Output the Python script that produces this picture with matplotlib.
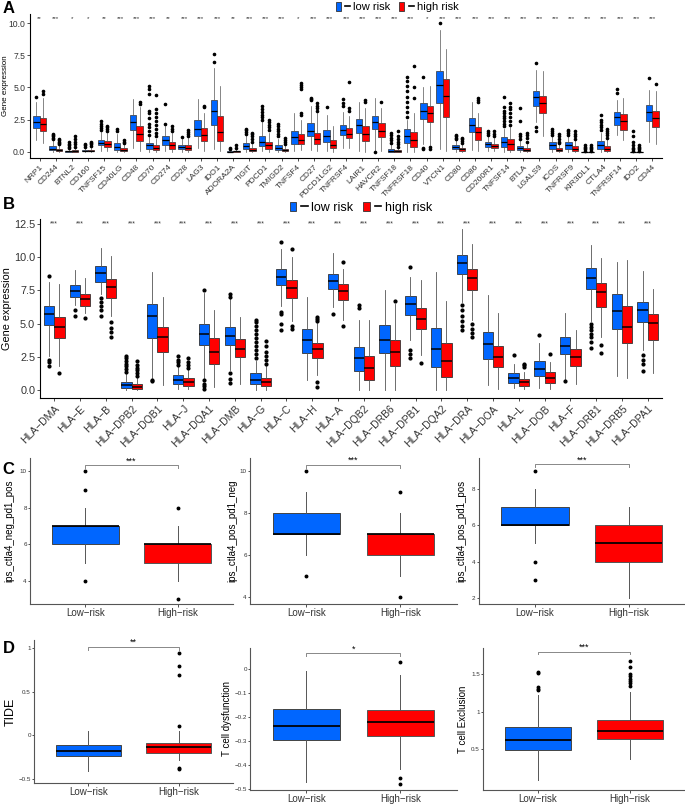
import matplotlib
matplotlib.use("Agg")
import matplotlib.pyplot as plt
from matplotlib.patches import Patch
from matplotlib.lines import Line2D
from matplotlib.legend_handler import HandlerTuple

plt.rcParams['font.family'] = ['Liberation Sans', 'DejaVu Sans']

BLUE = "#0066FF"
RED = "#FF0000"
MINUS = "\u2212"

# === Panel A: immune checkpoint genes ===
# stats per gene: (whislo, q1, median, q3, whishi)
a_genes = ["NRP1", "CD244", "BTNL2", "CD160", "TNFSF15", "CD40LG", "CD48", "CD70", "CD274", "CD28",
           "LAG3", "IDO1", "ADORA2A", "TIGIT", "PDCD1", "TMIGD2", "TNFSF4", "CD27", "PDCD1LG2", "TNFRSF4",
           "LAIR1", "HAVCR2", "TNFSF18", "TNFRSF18", "CD40", "VTCN1", "CD80", "CD86", "CD200R1", "TNFSF14",
           "BTLA", "LGALS9", "ICOS", "TNFRSF9", "KIR3DL1", "CTLA4", "TNFRSF14", "IDO2", "CD44"]
a_stars = ["**", "***", "*", "*", "**", "***", "***", "***", "**", "***",
           "***", "***", "**", "***", "***", "***", "*", "***", "***", "***",
           "***", "***", "***", "***", "*", "***", "***", "***", "***", "***",
           "***", "***", "***", "***", "***", "***", "***", "***", "***"]
a_low = [(0.95, 1.86, 2.33, 2.76, 3.9), (0, 0.13, 0.25, 0.44, 0.9), (0, 0.02, 0.05, 0.1, 0.2),
         (0, 0.05, 0.1, 0.15, 0.3), (0.1, 0.5, 0.72, 0.95, 1.55), (0, 0.18, 0.35, 0.7, 1.4),
         (0.3, 1.73, 2.32, 2.9, 4.1), (0, 0.23, 0.5, 0.7, 1.15), (0.1, 0.52, 0.9, 1.21, 2.0),
         (0, 0.23, 0.4, 0.57, 1.0), (0.3, 1.21, 1.81, 2.45, 4.1), (0.2, 2.12, 3.15, 4.06, 6.5),
         (0, 0.01, 0.03, 0.08, 0.15), (0, 0.23, 0.45, 0.7, 1.3), (0.05, 0.44, 0.8, 1.26, 2.3),
         (0, 0.13, 0.3, 0.52, 1.0), (0.1, 0.65, 1.14, 1.6, 3.0), (0.15, 1.21, 1.6, 2.25, 3.6),
         (0.1, 0.75, 1.21, 1.73, 2.9), (0.3, 1.3, 1.73, 2.1, 3.1), (0.1, 1.47, 2.09, 2.56, 3.9),
         (0.1, 1.78, 2.35, 2.81, 4.2), (0, 0.02, 0.1, 0.23, 0.5), (0, 0.72, 1.2, 1.78, 2.5),
         (0.6, 2.56, 3.18, 3.8, 5.0), (0.2, 3.8, 5.19, 6.28, 9.45), (0, 0.23, 0.35, 0.54, 0.9),
         (0.15, 1.56, 2.12, 2.6, 3.9), (0.1, 0.39, 0.58, 0.75, 1.2), (0, 0.41, 0.75, 1.19, 1.8),
         (0, 0.18, 0.3, 0.49, 0.9), (2.3, 3.57, 4.24, 4.73, 6.36), (0, 0.2, 0.5, 0.8, 1.2),
         (0, 0.26, 0.5, 0.75, 1.2), (0, 0, 0.01, 0.03, 0.06), (0, 0.23, 0.5, 0.88, 1.5),
         (1.3, 2.09, 2.7, 3.1, 4.0), (0, 0, 0.01, 0.03, 0.06), (0.8, 2.43, 3.08, 3.64, 4.8)]
a_low_fliers = [[4.25], [1.0, 1.1, 1.2, 1.3, 1.4], [0.3, 0.4, 0.5, 0.6, 0.8], [0.4, 0.5, 0.6],
                [1.7, 1.85, 2.0, 2.2, 2.4], [1.6, 1.75], [], [1.3, 1.6, 1.9, 2.2, 2.6, 3.0, 3.2, 4.5, 4.9, 5.15],
                [2.2, 3.75], [1.15], [], [7.0, 7.6], [0.2, 0.3], [1.4, 1.55, 1.7, 1.8],
                [2.5, 2.7, 2.9, 3.1, 3.3, 3.6], [1.2, 1.4, 1.6, 1.8, 2.0, 2.2], [], [4.0, 4.1, 4.2], [3.5],
                [3.6, 3.8, 4.1], [], [0.0], [0.7, 0.9, 1.1, 1.3, 1.5],
                [2.7, 3.1, 3.5, 3.9, 4.3, 4.7, 5.1, 5.5, 5.8], [5.8, 0.3, 0.2], [10.0], [1.0, 1.1, 1.2, 1.3],
                [], [1.35, 1.5, 1.6], [2.0, 2.2, 2.4, 2.6, 2.8, 3.0, 3.2, 3.5, 4.3], [1.0, 1.2, 1.4, 2.4, 3.4],
                [6.9, 1.9, 1.6], [1.3, 1.45, 1.6, 1.8], [1.3, 1.45, 1.6, 1.7], [0.1, 0.2, 0.3, 0.4, 0.5],
                [1.7, 1.9, 2.1, 2.3, 2.5, 2.9], [4.6, 4.9], [0.1, 0.2, 0.3, 0.5, 0.8, 1.2, 1.6], [5.76]]
a_high = [(0.7, 1.6, 2.2, 2.64, 4.2), (0, 0.05, 0.12, 0.23, 0.5), (0, 0.02, 0.06, 0.15, 0.3),
          (0, 0.05, 0.1, 0.17, 0.35), (0.05, 0.36, 0.6, 0.83, 1.5), (0, 0.05, 0.12, 0.3, 0.6),
          (0.1, 0.83, 1.42, 1.99, 3.5), (0, 0.13, 0.32, 0.52, 1.0), (0, 0.26, 0.5, 0.75, 1.45),
          (0, 0.18, 0.33, 0.57, 1.05), (0.1, 0.83, 1.29, 1.86, 3.0), (0.05, 0.83, 1.55, 2.76, 5.1),
          (0, 0.01, 0.04, 0.1, 0.2), (0, 0.05, 0.15, 0.3, 0.6), (0, 0.23, 0.5, 0.75, 1.5),
          (0, 0.05, 0.15, 0.26, 0.5), (0.15, 0.62, 0.96, 1.4, 2.5), (0.05, 0.65, 1.03, 1.47, 3.0),
          (0, 0.31, 0.57, 0.96, 2.0), (0.3, 1.08, 1.4, 1.86, 2.8), (0, 0.85, 1.4, 2.0, 3.4),
          (0.1, 1.19, 1.6, 2.25, 3.4), (0, 0.01, 0.05, 0.12, 0.25), (0, 0.41, 0.9, 1.57, 3.0),
          (0.5, 2.35, 3.0, 3.57, 5.1), (0.1, 2.72, 4.37, 5.64, 8.0), (0, 0.08, 0.2, 0.33, 0.6),
          (0.05, 0.93, 1.55, 1.96, 3.0), (0.05, 0.3, 0.48, 0.65, 1.1), (0, 0.15, 0.6, 1.0, 1.9),
          (0, 0.05, 0.15, 0.3, 0.6), (1.2, 3.02, 3.8, 4.34, 6.3), (0, 0.05, 0.12, 0.3, 0.6),
          (0, 0.1, 0.25, 0.44, 0.9), (0, 0, 0.01, 0.03, 0.06), (0, 0.05, 0.25, 0.44, 1.0),
          (0.9, 1.7, 2.4, 2.94, 4.2), (0, 0, 0.01, 0.03, 0.06), (0.6, 1.96, 2.6, 3.18, 4.7)]
a_high_fliers = [[4.5, 4.75], [0.6, 0.7, 0.8, 0.9, 1.0], [0.4, 0.6, 0.8, 1.0, 1.2], [0.45, 0.6, 0.7, 0.8],
                 [1.6, 1.75, 1.9, 2.0], [0.7, 0.8, 0.9], [3.7, 3.85], [1.2, 1.5, 1.8, 2.1, 2.4, 2.7, 3.0, 3.3, 4.4],
                 [1.6, 1.8, 2.0], [1.2, 1.4, 1.55, 1.7], [3.45, 3.6], [], [0.3, 0.5], [0.8, 1.0, 1.2, 1.4, 1.5],
                 [1.7, 1.9, 2.1, 2.3, 2.5], [0.6, 0.8, 0.95, 1.1], [2.9, 3.0, 4.9, 5.05, 5.2, 5.35],
                 [3.2, 3.4, 3.6, 3.8], [], [3.2, 3.4, 5.4], [3.9, 4.0], [3.9], [0.4, 0.6, 0.8, 1.0, 1.2, 1.6],
                 [4.2, 5.0, 6.7], [0.35, 0.25], [], [0.7, 0.85, 1.0, 1.1], [3.9, 4.05, 4.2], [1.2, 1.4, 1.6],
                 [2.1, 2.4, 2.7, 3.0, 3.3, 3.5, 3.8], [0.8, 1.1, 1.3, 1.5], [], [0.7, 0.8, 1.0, 1.2, 1.4],
                 [1.0, 1.2, 1.4, 1.6], [0.1, 0.2, 0.3, 0.4, 0.5], [1.1, 1.3, 1.5, 1.6, 1.8], [],
                 [0.1, 0.2, 0.3, 0.4, 0.5], [5.3]]

# === Panel B: HLA genes ===
b_genes = ["DMA", "E", "B", "DPB2", "DQB1", "J", "DQA1", "DMB", "G", "C", "H", "A", "DQB2", "DRB6",
           "DPB1", "DQA2", "DRA", "DOA", "L", "DOB", "F", "DRB1", "DRB5", "DPA1"]
b_stars = ["***"] * 24
b_low = [(2.6, 4.9, 5.7, 6.35, 8.1), (6.4, 7.0, 7.47, 7.9, 9.0), (7.2, 8.1, 8.78, 9.32, 10.65),
         (0, 0.2, 0.4, 0.65, 1.2), (0.9, 3.9, 5.6, 6.5, 8.9), (0.1, 0.5, 0.8, 1.15, 1.8),
         (0.9, 3.4, 4.25, 5.0, 7.3), (1.5, 3.4, 4.1, 4.75, 6.9), (0.05, 0.5, 0.8, 1.3, 2.2),
         (6.3, 7.87, 8.5, 9.1, 10.6), (0.77, 2.82, 3.77, 4.58, 6.98), (6.27, 7.58, 8.22, 8.72, 10.3),
         (0.02, 1.45, 2.4, 3.27, 5.27), (0, 2.77, 3.77, 4.9, 7.52), (3.77, 5.65, 6.47, 7.07, 8.52),
         (0, 1.77, 3.1, 4.65, 8.85), (6.65, 8.72, 9.57, 10.15, 12.1), (0.4, 2.32, 3.47, 4.4, 7.15),
         (0.15, 0.52, 0.9, 1.27, 2.0), (0.15, 1.1, 1.57, 2.22, 3.52), (0.82, 2.72, 3.35, 3.97, 5.77),
         (5.2, 7.57, 8.45, 9.15, 10.9), (1.07, 4.58, 5.97, 7.22, 9.65), (3.0, 5.1, 6.02, 6.65, 8.95)]
b_low_fliers = [[8.55, 2.3, 2.1, 1.85], [6.05, 5.6], [6.9, 6.6, 6.3, 6.0, 5.6],
                [1.4, 1.6, 1.8, 2.0, 2.2, 2.4, 2.6], [0.8, 0.7], [1.9, 2.1, 2.3, 2.6],
                [7.5, 0.8, 0.5, 0.3, 0.1], [7.0, 7.2, 1.3, 0.85, 0.55],
                [2.4, 2.7, 3.0, 3.3, 3.6, 3.9, 4.2, 4.5, 4.8, 5.1, 5.3], [11.1, 5.9, 5.7, 5.0, 4.5], [],
                [5.72], [6.2, 6.4], [], [9.22, 3.0, 2.7, 2.4], [], [6.4, 6.0, 5.6, 5.2, 4.8, 4.5], [],
                [2.65], [4.15], [0.72], [5.0, 4.75, 4.5, 4.25, 4.0, 3.6, 3.2], [], [2.65, 2.3, 2.0, 1.47]]
b_high = [(1.8, 3.95, 4.75, 5.5, 8.0), (5.8, 6.32, 6.85, 7.22, 8.4), (5.6, 6.95, 7.77, 8.33, 10.1),
          (0, 0.1, 0.25, 0.45, 0.9), (0.4, 2.9, 4.0, 4.75, 7.0), (0.1, 0.35, 0.6, 0.95, 1.5),
          (0.25, 1.95, 2.9, 3.95, 6.0), (0.5, 2.5, 3.1, 3.85, 5.5), (0.05, 0.35, 0.6, 0.95, 1.8),
          (5.2, 6.9, 7.65, 8.3, 10.0), (1.15, 2.4, 3.07, 3.52, 5.07), (5.27, 6.77, 7.47, 7.95, 9.07),
          (0, 0.77, 1.65, 2.6, 5.3), (0, 1.85, 2.85, 3.77, 6.5), (2.65, 4.58, 5.35, 6.15, 8.27),
          (0, 0.97, 2.22, 3.52, 6.7), (5.27, 7.52, 8.4, 9.07, 10.97), (0.1, 1.72, 2.47, 3.32, 5.77),
          (0.1, 0.35, 0.6, 0.85, 1.4), (0.1, 0.57, 0.9, 1.35, 2.15), (0.47, 1.82, 2.47, 3.07, 4.52),
          (4.0, 6.22, 7.4, 8.07, 9.9), (0.9, 3.57, 4.77, 6.35, 9.77), (1.27, 3.77, 5.03, 5.7, 7.57)]
b_high_fliers = [[1.3], [5.4], [5.1, 4.7, 4.35, 4.0], [1.1, 1.3, 1.5, 1.7, 1.9, 2.2], [],
                 [1.7, 1.9, 2.1, 2.4], [], [], [2.0, 2.3, 2.6, 2.9, 3.3, 3.7], [10.6, 4.8, 4.6],
                 [5.2, 5.35, 5.5, 0.6, 0.25], [9.65, 4.82], [], [6.7], [2.07], [], [4.97, 4.6, 4.3, 4.02],
                 [], [1.75, 1.9, 2.0], [2.72], [], [3.4, 2.82], [], []]

# === Panels C and D: two-group comparisons ===
groups = ["Low" + MINUS + "risk", "High" + MINUS + "risk"]
cd_ylabels = ["ips_ctla4_neg_pd1_pos", "ips_ctla4_pos_pd1_neg", "ips_ctla4_pos_pd1_pos",
              "TIDE", "T cell dysfunction", "T cell Exclusion"]
cd_stars = ["***", "***", "***", "**", "*", "***"]
cd_low = [(5, 6, 7, 7, 8), (6, 7, 7, 8, 9), (5, 6, 6, 7, 8),
          (-0.41, -0.24, -0.18, -0.11, 0.05), (-0.473, -0.296, -0.237, -0.167, -0.007),
          (0.09, 0.487, 0.63, 0.80, 1.22)]
cd_low_fliers = [[10, 9, 4], [10, 5], [9, 4, 3], [], [], [1.53, 1.51, 1.33, 1.31, 1.29]]
cd_high = [(4, 5, 6, 6, 7), (5, 6, 7, 7, 8), (2, 4, 5, 6, 7),
           (-0.28, -0.196, -0.137, -0.085, 0.055), (-0.418, -0.281, -0.221, -0.172, -0.023),
           (0.37, 0.64, 0.74, 0.89, 1.26)]
cd_high_fliers = [[8, 3], [9, 4], [], [0.94, 0.79, 0.69, 0.11, -0.37, -0.39], [0.03, -0.457, -0.479],
                  [1.68, 1.59, 1.5, 1.47, 1.44, 1.41, 1.38, 1.35]]
cd_yticks = [[4, 6, 8, 10], [4, 6, 8, 10], [2, 4, 6, 8], [-0.5, 0.0, 0.5, 1.0],
             [-0.5, -0.4, -0.3, -0.2, -0.1, 0.0], [0.5, 1.0, 1.5]]


def to_stats(rows, fliers):
    return [dict(whislo=r[0], q1=r[1], med=r[2], q3=r[3], whishi=r[4], fliers=f) for r, f in zip(rows, fliers)]


def draw(ax, stats, pos, color, width, lw=0.6, ms=2.0, edge="#333333"):
    ax.bxp(stats, positions=pos, widths=width, patch_artist=True, showcaps=False, manage_ticks=False,
           boxprops=dict(facecolor=color, edgecolor=edge, linewidth=lw),
           medianprops=dict(color="black", linewidth=lw * 1.8),
           whiskerprops=dict(color="#555555", linewidth=lw),
           flierprops=dict(marker="o", markerfacecolor="black", markeredgecolor="black",
                           markersize=ms, linestyle="none"))


def style(ax, lw=0.8, col="black"):
    for s in ["top", "right"]:
        ax.spines[s].set_visible(False)
    for s in ["left", "bottom"]:
        ax.spines[s].set_linewidth(lw)
        ax.spines[s].set_color(col)
    ax.tick_params(length=2.5, width=0.6, colors="#333333", pad=1.5)


fig = plt.figure(figsize=(6.85, 8.06), dpi=100)

# --- A ---
axA = fig.add_axes([0.0438, 0.804, 0.9226, 0.1786])
n = len(a_genes)
xs = list(range(1, n + 1))
draw(axA, to_stats(a_low, a_low_fliers), [x - 0.2 for x in xs], BLUE, 0.4, lw=0.5, ms=1.6)
draw(axA, to_stats(a_high, a_high_fliers), [x + 0.2 for x in xs], RED, 0.4, lw=0.5, ms=1.6)
for x, s in zip(xs, a_stars):
    axA.text(x, 10.35, s, ha="center", va="center", fontsize=4.5, color="#333333")
axA.set_xlim(0.4, n + 0.6)
axA.set_ylim(-0.47, 10.7)
axA.set_yticks([0, 2.5, 5, 7.5, 10])
axA.set_yticklabels(["0.0", "2.5", "5.0", "7.5", "10.0"], fontsize=6.2)
axA.set_xticks(xs)
axA.set_xticklabels(a_genes, rotation=45, ha="right", rotation_mode="anchor", fontsize=6)
axA.set_ylabel("Gene expression", fontsize=5.8)
axA.yaxis.set_label_coords(-0.034, 0.5)
style(axA)
axA.tick_params(axis="y", pad=1)

# --- B ---
axB = fig.add_axes([0.0584, 0.5062, 0.908, 0.2221])
n = len(b_genes)
xs = list(range(1, n + 1))
draw(axB, to_stats(b_low, b_low_fliers), [x - 0.2 for x in xs], BLUE, 0.4, lw=0.6, ms=2.0)
draw(axB, to_stats(b_high, b_high_fliers), [x + 0.2 for x in xs], RED, 0.4, lw=0.6, ms=2.0)
for x, s in zip(xs, b_stars):
    axB.text(x, 12.5, s, ha="center", va="center", fontsize=5, color="#333333")
axB.set_xlim(0.45, n + 0.55)
axB.set_ylim(-0.58, 12.84)
axB.set_yticks([0, 2.5, 5, 7.5, 10, 12.5])
axB.set_yticklabels(["0.0", "2.5", "5.0", "7.5", "10.0", "12.5"], fontsize=7.8)
axB.set_xticks(xs)
axB.set_xticklabels(["HLA" + MINUS + g for g in b_genes], rotation=45, ha="right",
                    rotation_mode="anchor", fontsize=7.5)
axB.set_ylabel("Gene expression", fontsize=7.8)
axB.yaxis.set_label_coords(-0.045, 0.5)
style(axB)
axB.tick_params(axis="y", pad=1)

# legends
def leg_handle(c):
    return (Patch(facecolor=c, edgecolor="#333333", linewidth=0.6), Line2D([], [], color="black", lw=1.2))

handles = [leg_handle(BLUE), leg_handle(RED)]
fig.legend(handles, ["low risk", "high risk"], loc="center", bbox_to_anchor=(0.58, 0.991), ncol=2,
           frameon=False, fontsize=8, handlelength=1.3, handleheight=0.8, handletextpad=0.3,
           columnspacing=0.8, handler_map={tuple: HandlerTuple(ndivide=None)})
fig.legend(handles, ["low risk", "high risk"], loc="center", bbox_to_anchor=(0.527, 0.742), ncol=2,
           frameon=False, fontsize=9, handlelength=1.4, handleheight=0.8, handletextpad=0.3,
           columnspacing=0.8, handler_map={tuple: HandlerTuple(ndivide=None)})

# --- C and D ---
cd_rects = [[0.0438, 0.2506, 0.2964, 0.1811], [0.365, 0.2506, 0.302, 0.1811], [0.699, 0.2506, 0.3007, 0.1811],
            [0.0496, 0.0285, 0.2905, 0.1774], [0.365, 0.0199, 0.302, 0.1762], [0.705, 0.0199, 0.295, 0.1762]]
cd_ylims = [(2.73, 10.73), (3.68, 10.64), (1.67, 9.7), (-0.545, 1.09), (-0.505, 0.088), (-0.04, 1.85)]
cd_brackets = [(10.33, 0.15), (10.32, 0.17), (9.35, 0.15), (1.01, 0.03), (0.065, 0.012), (1.80, 0.03)]
cd_labelx = [-0.075, -0.06, -0.06, -0.085, -0.085, -0.075]

for k in range(6):
    ax = fig.add_axes(cd_rects[k])
    draw(ax, to_stats([cd_low[k]], [cd_low_fliers[k]]), [1], BLUE, 0.72, lw=0.7, ms=1.8, edge="#444444")
    draw(ax, to_stats([cd_high[k]], [cd_high_fliers[k]]), [2], RED, 0.72, lw=0.7, ms=1.8, edge="#555555")
    y, h = cd_brackets[k]
    ax.plot([1, 1, 2, 2], [y - h, y, y, y - h], color="#888888", lw=0.7)
    ax.text(1.5, y, cd_stars[k], ha="center", va="bottom", fontsize=6.5)
    ax.set_xlim(0.4, 2.6)
    ax.set_ylim(*cd_ylims[k])
    ax.set_xticks([1, 2])
    ax.set_xticklabels(groups, fontsize=7)
    ax.set_yticks(cd_yticks[k])
    ax.set_yticklabels([("%g" % v).replace("-", MINUS) for v in cd_yticks[k]], fontsize=4.5)
    if cd_ylabels[k] == "TIDE":
        ax.set_ylabel(cd_ylabels[k], fontsize=9)
    else:
        ax.set_ylabel(cd_ylabels[k], fontsize=7)
    ax.yaxis.set_label_coords(cd_labelx[k], 0.5)
    style(ax, lw=0.8, col="#555555")
    ax.tick_params(axis="y", length=1.5, pad=0.8)
    ax.tick_params(axis="x", length=2, pad=1)

for lab, y in [("A", 0.99), ("B", 0.746), ("C", 0.417), ("D", 0.196)]:
    fig.text(0.004, y, lab, fontsize=12, fontweight="bold", va="center", ha="left")

fig.savefig("out.png", dpi=100)
